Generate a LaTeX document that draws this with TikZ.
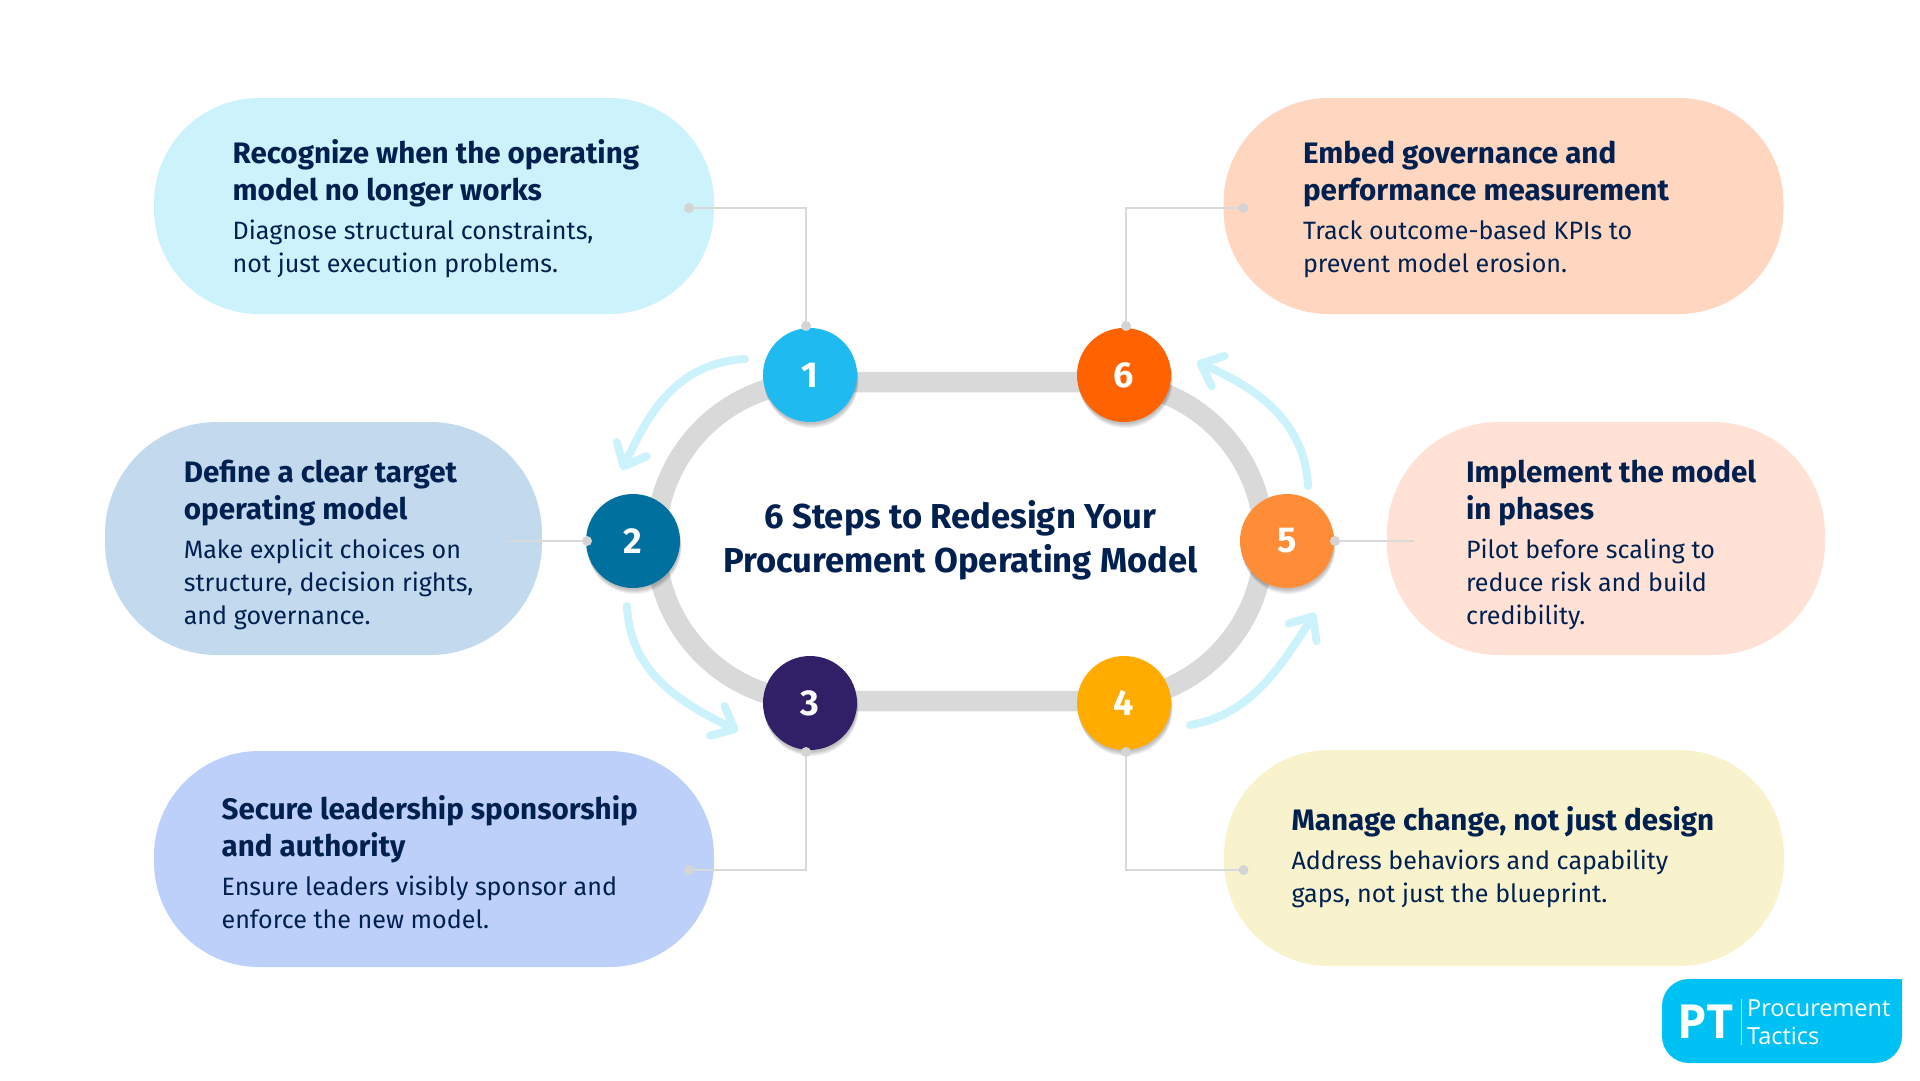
\documentclass[tikz,border=0pt]{standalone}
\usepackage{fontspec}
\setmainfont{Fira Sans}
\newfontfamily\logofont{Open Sans}
\usetikzlibrary{arrows.meta}
\definecolor{ink}{HTML}{002150}
\definecolor{trk}{HTML}{D9D9D9}
\definecolor{dotc}{HTML}{D4D4D4}
\definecolor{arw}{HTML}{CCF2FB}
\definecolor{logoc}{HTML}{00C1F3}
\newcommand{\fl}{\rule{0pt}{24pt}}
\newcommand{\hd}[1]{{\bfseries\fontsize{29.6}{33}\selectfont #1}}
\tikzset{
  x=1pt,y=-1pt,
  bubble/.style={shape=rectangle,minimum width=#1,inner sep=0pt,outer sep=0pt},
  txt/.style={anchor=north west,align=left,inner sep=0pt,outer sep=0pt,text=ink,font=\fontsize{25.1}{33}\selectfont},
  softshade/.style={preaction={fill=black,opacity=.05,transform canvas={xshift=#1*0.25pt,yshift=-#1*1pt}}},
  numc/.style={circle,minimum size=94pt,inner sep=0pt,outer sep=0pt,text=white,font=\bfseries\fontsize{36}{40}\selectfont,
     softshade=6,softshade=5,softshade=4,softshade=3,softshade=2},
  dotn/.style={circle,fill=dotc,minimum size=10pt,inner sep=0pt,outer sep=0pt},
  conn/.style={draw=trk,line width=1.8pt},
  flow/.style={draw=arw,line width=8pt,line cap=round,line join=round,-{Straight Barb[length=19pt,width=33pt,line cap=round,round]}},
}
\begin{document}
\begin{tikzpicture}
\useasboundingbox (0,0) rectangle (1920,1080);
\fill[white] (0,0) rectangle (1920,1080);
% track
\node[shape=rectangle,draw=trk,line width=20.5pt,rounded corners=159pt,minimum width=608pt,minimum height=319pt,inner sep=0pt,outer sep=0pt] (track) at (960,541.5) {};
% bubbles
\node[bubble=560pt,minimum height=216pt,rounded corners=105pt,fill={rgb,255:red,204;green,242;blue,251}] (b1) at (434,206) {};
\node[bubble=437pt,minimum height=233pt,rounded corners=112pt,fill={rgb,255:red,194;green,217;blue,238}] (b2) at (323.5,538.5) {};
\node[bubble=560pt,minimum height=216pt,rounded corners=105pt,fill={rgb,255:red,189;green,208;blue,250}] (b3) at (434,859) {};
\node[bubble=560pt,minimum height=216pt,rounded corners=105pt,fill={rgb,255:red,249;green,243;blue,205}] (b4) at (1504,858) {};
\node[bubble=438pt,minimum height=233pt,rounded corners=112pt,fill={rgb,255:red,255;green,226;blue,213}] (b5) at (1606,538.5) {};
\node[bubble=560pt,minimum height=216pt,rounded corners=105pt,fill={rgb,255:red,255;green,214;blue,192}] (b6) at (1503.5,206) {};
% texts
\node[txt] (t1) at (232.7,139.5) {\fl\hd{Recognize when the operating}\\[4pt]\hd{model no longer works}\\[5.5pt]Diagnose structural constraints,\\not just execution problems.};
\node[txt] (t2) at (183.8,458.5) {\fl\hd{Define a clear target}\\[4pt]\hd{operating model}\\[5.5pt]Make explicit choices on\\structure, decision rights,\\and governance.};
\node[txt] (t3) at (221.6,795.5) {\fl\hd{Secure leadership sponsorship}\\[4pt]\hd{and authority}\\[5.5pt]Ensure leaders visibly sponsor and\\enforce the new model.};
\node[txt] (t4) at (1291.5,806.5) {\fl\hd{Manage change, not just design}\\[6pt]Address behaviors and capability\\gaps, not just the blueprint.};
\node[txt] (t5) at (1466,458.5) {\fl\hd{Implement the model}\\[4pt]\hd{in phases}\\[5.5pt]Pilot before scaling to\\reduce risk and build\\credibility.};
\node[txt] (t6) at (1303,139.5) {\fl\hd{Embed governance and}\\[4pt]\hd{performance measurement}\\[5.5pt]Track outcome-based KPIs to\\prevent model erosion.};
% title
\node[align=center,inner sep=0pt,outer sep=0pt,text=ink,font=\bfseries\fontsize{34.6}{43.7}\selectfont] (title) at (960.5,540) {6 Steps to Redesign Your\\Procurement Operating Model};
% circles
\node[numc,fill={rgb,255:red,31;green,187;blue,240}] (c1) at (810,375) {1};
\node[numc,fill={rgb,255:red,0;green,112;blue,159}] (c2) at (633,541) {2};
\node[numc,fill={rgb,255:red,49;green,32;blue,104}] (c3) at (810,703) {3};
\node[numc,fill={rgb,255:red,255;green,171;blue,0}] (c4) at (1124,703) {4};
\node[numc,fill={rgb,255:red,255;green,140;blue,54}] (c5) at (1287,541) {5};
\node[numc,fill={rgb,255:red,255;green,98;blue,0}] (c6) at (1124,375) {6};
% connector dots
\node[dotn] (d1a) at (689,208) {};
\node[dotn] (d1b) at (806,326) {};
\node[dotn] (d2a) at (587,541) {};
\coordinate (d2b) at (507,541);
\node[dotn] (d3a) at (689,870) {};
\node[dotn] (d3b) at (806,752) {};
\node[dotn] (d4a) at (1243.5,870) {};
\node[dotn] (d4b) at (1126,752) {};
\node[dotn] (d5a) at (1335,541) {};
\coordinate (d5b) at (1414,541);
\node[dotn] (d6a) at (1243,208) {};
\node[dotn] (d6b) at (1126,326) {};
\draw[conn] (d1a) -| (d1b);
\draw[conn] (d2a) -- (d2b);
\draw[conn] (d3a) -| (d3b);
\draw[conn] (d4a) -| (d4b);
\draw[conn] (d5a) -- (d5b);
\draw[conn] (d6a) -| (d6b);
% flow arrows
\coordinate (f1s) at (745,359); \coordinate (f1e) at (622,470);
\coordinate (f2s) at (627,606); \coordinate (f2e) at (738,731);
\coordinate (f4s) at (1190,725); \coordinate (f4e) at (1315,613);
\coordinate (f5s) at (1308,486); \coordinate (f5e) at (1197,362);
\draw[flow] (f1s) .. controls (678,363) and (650,410) .. (f1e);
\draw[flow] (f2s) .. controls (630,670) and (675,700) .. (f2e);
\draw[flow] (f4s) .. controls (1250,715) and (1280,668) .. (f4e);
\draw[flow] (f5s) .. controls (1305,425) and (1262,390) .. (f5e);
% logo
\fill[logoc] (1689,979) -- (1902,979) -- (1902,1036) .. controls (1902,1051) and (1890,1063) .. (1875,1063) -- (1689,1063) .. controls (1674,1063) and (1662,1051) .. (1662,1036) -- (1662,1006) .. controls (1662,991) and (1674,979) .. (1689,979) -- cycle;
\node[anchor=base west,inner sep=0pt,text=white,font=\logofont\bfseries\fontsize{47}{50}\selectfont] (lp) at (1677,1038) {PT};
\node[anchor=base west,inner sep=0pt,text=white,font=\logofont\fontsize{23.5}{27}\selectfont] (l1) at (1747,1016) {Procurement};
\node[anchor=base west,inner sep=0pt,text=white,font=\logofont\fontsize{23.5}{27}\selectfont] (l2) at (1747,1044) {Tactics};
\coordinate (ld1) at (1741,999); \coordinate (ld2) at (1741,1045);
\draw[white!70!logoc,line width=1pt] (ld1) -- (ld2);
\end{tikzpicture}
\end{document}
